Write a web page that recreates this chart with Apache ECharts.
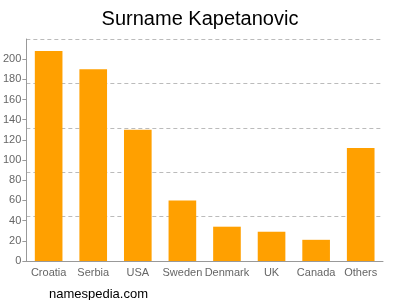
<!DOCTYPE html>
<html><head><meta charset="utf-8">
<script src="https://cdn.jsdelivr.net/npm/echarts@6/dist/echarts.min.js"></script>
<style>html,body{margin:0;padding:0;background:#fff}#c{width:400px;height:300px}</style>
</head><body><div id="c"></div>
<script>
var categories = ["Croatia","Serbia","USA","Sweden","Denmark","UK","Canada","Others"];
var counts = [208, 190, 130, 60, 34, 29, 21, 112];
var yMax = 220;
var labelStep = 20;
var gridStep = 44;

var chart = echarts.init(document.getElementById('c'), null, {renderer:'canvas'});
chart.setOption({
  animation: false,
  title: [{
    text: 'Surname Kapetanovic', left: 'center', top: 4,
    textStyle: {fontFamily: 'Liberation Sans, Arial, sans-serif', fontSize: 20, fontWeight: 'normal', color: '#000'}
  }, {
    text: 'namespedia.com', left: 44, top: 283,
    textStyle: {fontFamily: 'Liberation Sans, Arial, sans-serif', fontSize: 13, fontWeight: 'normal', color: '#000'}
  }],
  grid: {left: 25, right: 17, top: 39, bottom: 39, containLabel: false},
  xAxis: {
    type: 'category', data: categories,
    axisLine: {lineStyle: {color: '#999'}},
    axisTick: {show: false},
    axisLabel: {color: '#666', fontSize: 11, fontFamily: 'Liberation Sans, Arial, sans-serif', margin: 6, interval: 0}
  },
  yAxis: [{
    type: 'value', min: 0, max: yMax, interval: labelStep,
    axisLine: {show: true, lineStyle: {color: '#999'}},
    axisTick: {show: true, length: 4, lineStyle: {color: '#999'}},
    axisLabel: {color: '#666', fontSize: 11, fontFamily: 'Liberation Sans, Arial, sans-serif', margin: 5,
      showMaxLabel: false},
    splitLine: {show: false}
  }, {
    type: 'value', min: 0, max: yMax, interval: gridStep, position: 'left',
    axisLine: {show: false}, axisTick: {show: false}, axisLabel: {show: false},
    splitLine: {show: true, lineStyle: {color: '#bbb', type: [4, 3], width: 1}}
  }],
  series: [{
    type: 'bar', data: counts, yAxisIndex: 0, barWidth: '62%',
    itemStyle: {color: '#FFA000'}
  }]
});
</script></body></html>
